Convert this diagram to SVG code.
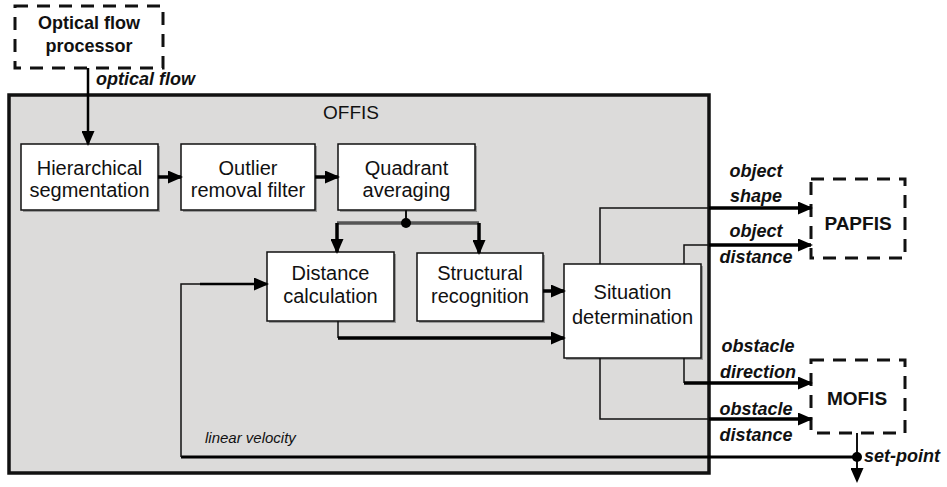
<svg xmlns="http://www.w3.org/2000/svg" width="947" height="487" viewBox="0 0 947 487">
<defs>
<marker id="ah" markerWidth="15" markerHeight="13" refX="13" refY="6.5" orient="auto" markerUnits="userSpaceOnUse"><path d="M0,0 L15,6.5 L0,13 z" fill="#000"/></marker>
<style>
.box{fill:#fff;stroke:#111;stroke-width:1.5}
.shadow{fill:#9a9a9a}
.dash{fill:#fff;stroke:#111;stroke-width:3;stroke-dasharray:13 9}
.t{font-family:"Liberation Sans",Arial,sans-serif;font-size:20px;fill:#111;text-anchor:middle}
.b{font-family:"Liberation Sans",Arial,sans-serif;font-weight:bold;font-size:18px;fill:#111;text-anchor:middle}
.lab{font-family:"Liberation Sans",Arial,sans-serif;font-style:italic;font-weight:bold;font-size:18px;fill:#111}
.thin{fill:none;stroke:#111;stroke-width:1.5}
.thick{fill:none;stroke:#000;stroke-width:3.5}
</style>
</defs>
<rect width="947" height="487" fill="#fff"/>

<g id="offis">
<rect x="9" y="95" width="700" height="378" fill="#dcdbda" stroke="#111" stroke-width="3.5"/>
<text class="t" x="351" y="119" style="font-size:19px">OFFIS</text>
</g>

<g id="optical-flow-processor">
<rect class="dash" x="15" y="6" width="148" height="62"/>
<text class="b" x="89" y="29">Optical flow</text>
<text class="b" x="89" y="52">processor</text>
</g>

<g id="hierarchical-segmentation">
<rect class="shadow" x="23" y="146" width="137" height="66"/>
<rect class="box" x="21" y="144" width="137" height="66"/>
<text class="t" x="89.5" y="175">Hierarchical</text>
<text class="t" x="89.5" y="197">segmentation</text>
</g>

<g id="outlier-removal-filter">
<rect class="shadow" x="183" y="146" width="134" height="66"/>
<rect class="box" x="181" y="144" width="134" height="66"/>
<text class="t" x="248" y="175">Outlier</text>
<text class="t" x="248" y="197">removal filter</text>
</g>

<g id="quadrant-averaging">
<rect class="shadow" x="340" y="146" width="137" height="66"/>
<rect class="box" x="338" y="144" width="137" height="66"/>
<text class="t" x="406.5" y="175">Quadrant</text>
<text class="t" x="406.5" y="197">averaging</text>
</g>

<g id="distance-calculation">
<rect class="shadow" x="269" y="254" width="127" height="69"/>
<rect class="box" x="267" y="252" width="127" height="69"/>
<text class="t" x="330.5" y="280">Distance</text>
<text class="t" x="330.5" y="303">calculation</text>
</g>

<g id="structural-recognition">
<rect class="shadow" x="419" y="255" width="126" height="68"/>
<rect class="box" x="417" y="253" width="126" height="68"/>
<text class="t" x="480" y="280">Structural</text>
<text class="t" x="480" y="303">recognition</text>
</g>

<g id="situation-determination">
<rect class="shadow" x="566" y="266" width="137" height="94"/>
<rect class="box" x="564" y="264" width="137" height="94"/>
<text class="t" x="632.5" y="299">Situation</text>
<text class="t" x="632.5" y="324">determination</text>
</g>

<g id="papfis">
<rect class="dash" x="811" y="179" width="94" height="79"/>
<text class="b" x="858" y="230" style="font-size:19px">PAPFIS</text>
</g>

<g id="mofis">
<rect class="dash" x="811" y="360" width="94" height="73"/>
<text class="b" x="857" y="405" style="font-size:19px">MOFIS</text>
</g>

<g id="connectors">
<path class="thick" style="stroke-width:2.5" d="M88,68 V144" marker-end="url(#ah)"/>
<path class="thick" d="M158,177 H181" marker-end="url(#ah)"/>
<path class="thick" d="M315,177 H338" marker-end="url(#ah)"/>
<path class="thin" style="stroke-width:2" d="M406,210 V223"/>
<path fill="none" stroke="#555" stroke-width="3.5" d="M337,223 H479"/>
<circle cx="406" cy="223" r="5" fill="#000"/>
<path class="thick" d="M337,223 V252" marker-end="url(#ah)"/>
<path class="thick" d="M479,223 V253" marker-end="url(#ah)"/>
<path class="thick" d="M543,291 H564" marker-end="url(#ah)"/>
<path class="thin" d="M338,321 V338"/>
<path class="thick" d="M338,338 H564" marker-end="url(#ah)"/>
<path class="thin" d="M600,264 V208 H709"/>
<path class="thick" d="M709,208 H811" marker-end="url(#ah)"/>
<path class="thin" d="M684,264 V245 H709"/>
<path class="thick" d="M709,245 H811" marker-end="url(#ah)"/>
<path class="thin" d="M684,358 V383"/>
<path class="thick" d="M684,383 H811" marker-end="url(#ah)"/>
<path class="thin" d="M600,358 V419 H709"/>
<path class="thick" d="M709,419 H811" marker-end="url(#ah)"/>
<path class="thin" style="stroke-width:2" d="M857,433 V481" marker-end="url(#ah)"/>
<circle cx="857" cy="457" r="5" fill="#000"/>
<path class="thick" style="stroke-width:3" d="M857,457 H181"/>
<path class="thin" d="M181,457 V284 H200"/>
<path class="thick" style="stroke-width:2.5" d="M200,284 H267" marker-end="url(#ah)"/>
<text class="lab" x="96" y="85">optical flow</text>
<text class="lab" x="756" y="177" text-anchor="middle">object</text>
<text class="lab" x="756" y="202" text-anchor="middle">shape</text>
<text class="lab" x="756" y="237" text-anchor="middle">object</text>
<text class="lab" x="756" y="263" text-anchor="middle">distance</text>
<text class="lab" x="758" y="352" text-anchor="middle">obstacle</text>
<text class="lab" x="758" y="378" text-anchor="middle">direction</text>
<text class="lab" x="756" y="415" text-anchor="middle">obstacle</text>
<text class="lab" x="756" y="441" text-anchor="middle">distance</text>
<text class="lab" x="864" y="462">set-point</text>
<text class="lab" x="205" y="443" style="font-weight:normal;font-size:15px">linear velocity</text>
</g>
</svg>
